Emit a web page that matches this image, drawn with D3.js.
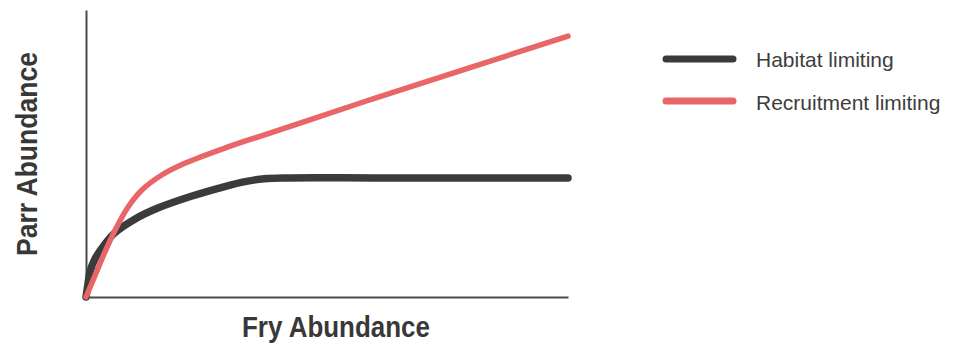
<!DOCTYPE html>
<html>
<head>
<meta charset="utf-8">
<script src="https://cdn.jsdelivr.net/npm/d3@7/dist/d3.min.js"></script>
<style>
  html, body { margin: 0; padding: 0; background: #fff; }
  svg { display: block; }
</style>
</head>
<body>
<svg id="chart" width="957" height="345"></svg>
<script>
// Fry abundance (relative, 0-100) and parr abundance (relative, 0-100)
const habitatFry  = [0, 0.4, 0.8, 1.9, 3.9, 6.0, 10.2, 14.9, 22.0, 28.8, 33.0, 37.0, 42.0, 60, 80, 100];
const habitatParr = [0, 4.4, 8.6, 13.4, 18.4, 22.4, 27.2, 31.0, 35.2, 38.5, 40.2, 41.2, 41.5, 41.5, 41.5, 41.5];
const recruitFry  = [0, 1.9, 3.9, 6.0, 8.7, 11.6, 15.8, 20.5, 29.3, 36.1, 44.4, 60, 80, 100];
const recruitParr = [0, 7.6, 15.6, 23.2, 31.3, 37.3, 42.6, 46.6, 52.2, 56.0, 60.6, 69.3, 80.1, 90.9];
const seriesNames = ["Habitat limiting", "Recruitment limiting"];
const seriesColors = ["#3b3b3b", "#e86668"];
const xTitle = "Fry Abundance";
const yTitle = "Parr Abundance";

const svg = d3.select("#chart");
const x = d3.scaleLinear().domain([0, 100]).range([86, 568]);
const y = d3.scaleLinear().domain([0, 100]).range([297, 10]);

// axes (no ticks)
svg.append("g").attr("transform", "translate(0,297)")
  .call(d3.axisBottom(x).tickValues([]).tickSizeOuter(0))
  .call(g => g.select(".domain").attr("stroke", "#4a4a4a").attr("stroke-width", 2));
svg.append("g").attr("transform", "translate(86,0)")
  .call(d3.axisLeft(y).tickValues([]).tickSizeOuter(0))
  .call(g => g.select(".domain").attr("stroke", "#4a4a4a").attr("stroke-width", 2));

const line = d3.line().x(d => x(d[0])).y(d => y(d[1])).curve(d3.curveCatmullRom.alpha(0.5));
const hab = habitatFry.map((f, i) => [f, habitatParr[i]]);
const rec = recruitFry.map((f, i) => [f, recruitParr[i]]);

svg.append("path").datum(hab).attr("d", line)
  .attr("fill", "none").attr("stroke", seriesColors[0]).attr("stroke-width", 7.5)
  .attr("stroke-linecap", "round").attr("stroke-linejoin", "round");
svg.append("path").datum(rec).attr("d", line)
  .attr("fill", "none").attr("stroke", seriesColors[1]).attr("stroke-width", 5.5)
  .attr("stroke-linecap", "round").attr("stroke-linejoin", "round");

// axis titles
svg.append("text").text(xTitle)
  .attr("x", 242).attr("y", 337)
  .attr("textLength", 188).attr("lengthAdjust", "spacingAndGlyphs")
  .attr("font-family", "'Liberation Sans', Arial, sans-serif")
  .attr("font-weight", "bold").attr("font-size", 30).attr("fill", "#383838");
svg.append("text").text(yTitle)
  .attr("transform", "translate(37,154) rotate(-90)")
  .attr("text-anchor", "middle")
  .attr("textLength", 204).attr("lengthAdjust", "spacingAndGlyphs")
  .attr("font-family", "'Liberation Sans', Arial, sans-serif")
  .attr("font-weight", "bold").attr("font-size", 30).attr("fill", "#383838");

// legend
const legY = [59, 101];
const legTextY = [67, 110];
seriesNames.forEach((name, i) => {
  svg.append("line")
    .attr("x1", 666).attr("x2", 733).attr("y1", legY[i]).attr("y2", legY[i])
    .attr("stroke", seriesColors[i]).attr("stroke-width", 7).attr("stroke-linecap", "round");
  svg.append("text").text(name)
    .attr("x", 756).attr("y", legTextY[i])
    .attr("font-family", "'Liberation Sans', Arial, sans-serif")
    .attr("font-size", 21).attr("fill", "#3d3d3d");
});
</script>
</body>
</html>
